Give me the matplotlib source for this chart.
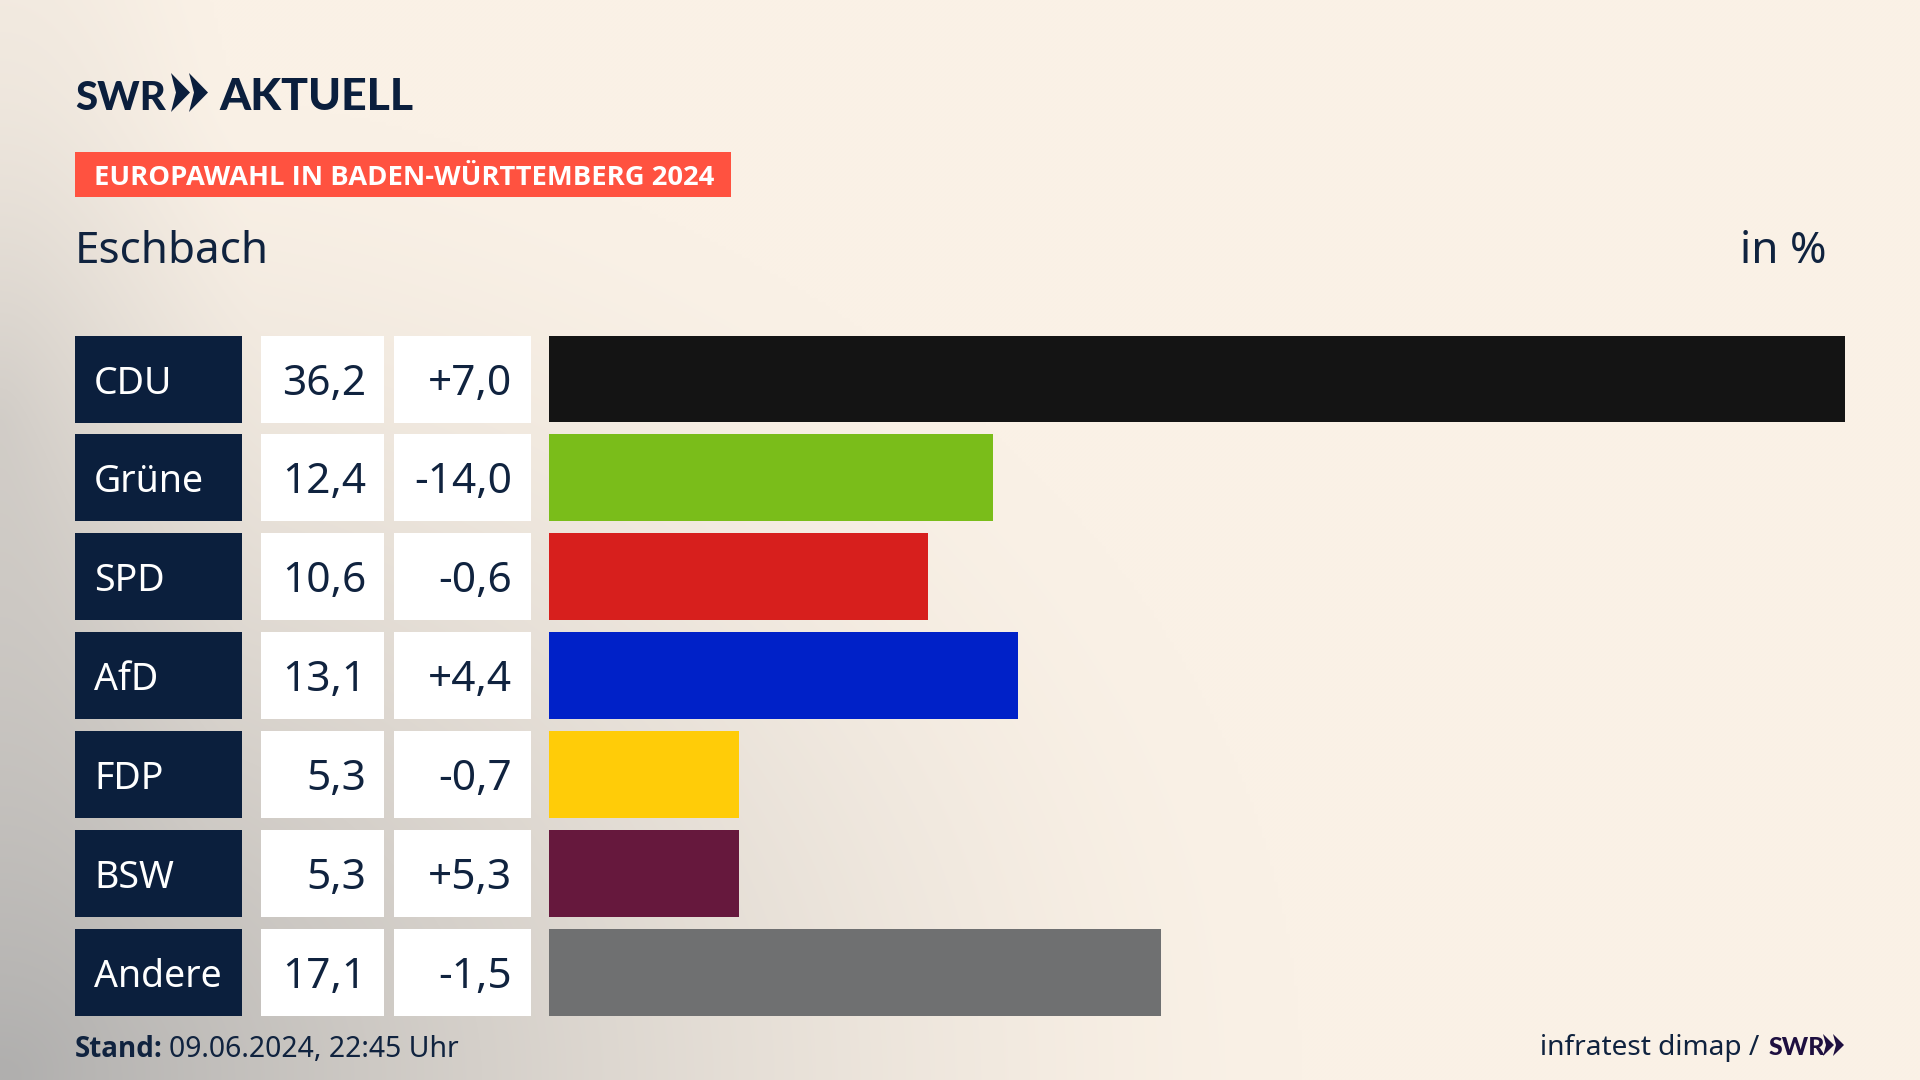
import numpy as np
import matplotlib
matplotlib.use("Agg")
import matplotlib.pyplot as plt
from matplotlib.patches import Rectangle, Polygon

parties = ["CDU", "Grüne", "SPD", "AfD", "FDP", "BSW", "Andere"]
shares = [36.2, 12.4, 10.6, 13.1, 5.3, 5.3, 17.1]
changes = ["+7,0", "-14,0", "-0,6", "+4,4", "-0,7", "+5,3", "-1,5"]
colors = ["#141414", "#7ABD1A", "#D71F1D", "#0021C8", "#FFCC08", "#66183D", "#6F7071"]

NAVY = "#0B1F3D"
TXT = "#10233F"
FONT = ["Noto Sans", "DejaVu Sans"]
BOLD = ["Open Sans", "DejaVu Sans"]
HEAVY = ["Lato", "DejaVu Sans"]

W, H = 1920, 1080
fig = plt.figure(figsize=(19.2, 10.8), dpi=100)

# background + pixel-layout axes
ax = fig.add_axes([0, 0, 1, 1])
ax.set_xlim(0, W); ax.set_ylim(H, 0); ax.axis("off")
yy, xx = np.mgrid[0:H:270j, 0:W:480j]
cream = np.array([250, 241, 230]) / 255
gray = np.array([176, 175, 174]) / 255
d1 = np.sqrt((xx / 1300) ** 2 + ((H - yy) / 1000) ** 2)
a1 = np.clip(1 - d1, 0, 1) ** 1.5
d2 = np.sqrt(((xx - 0) / 260) ** 2 + ((yy - 420) / 700) ** 2)
a2 = np.clip(1 - d2, 0, 1) ** 1.3 * 0.35
a = np.clip(a1 + a2, 0, 1)[..., None]
ax.imshow(cream * (1 - a) + gray * a, extent=(0, W, H, 0), aspect="auto", zorder=0, interpolation="bilinear")

# logo
ax.text(75, 110, "SWR", family=HEAVY, weight="black", fontsize=29, color=NAVY, va="baseline")
for x0 in (171, 189):
    ax.add_patch(Polygon([(x0, 73), (x0 + 19, 92.5), (x0, 112), (x0 + 5, 92.5)], closed=True, color=NAVY, lw=0, zorder=3))
ax.text(219, 110, "AKTUELL", family=HEAVY, weight="black", fontsize=32, color=NAVY, va="baseline")

# banner
ax.add_patch(Rectangle((75, 152), 656, 45, color="#FF5240", lw=0, zorder=2))
ax.text(94, 185, "EUROPAWAHL IN BADEN-WÜRTTEMBERG 2024", family=BOLD, weight="bold",
        fontsize=19.7, color="white", va="baseline", zorder=3)

# heading
ax.text(75, 263, "Eschbach", family=FONT, fontsize=31.7, color=TXT, va="baseline")
ax.text(1826, 263, "in %", family=FONT, fontsize=31.7, color=TXT, va="baseline", ha="right")

# table cells
tops = [336, 434, 533, 632, 731, 830, 929]
for top, p, s, c in zip(tops, parties, shares, changes):
    ax.add_patch(Rectangle((75, top), 167, 87, color=NAVY, lw=0, zorder=2))
    ax.add_patch(Rectangle((261, top), 123, 87, color="white", lw=0, zorder=2))
    ax.add_patch(Rectangle((394, top), 137, 87, color="white", lw=0, zorder=2))
    ax.text(94, top + 58, p, family=FONT, fontsize=27, color="white", va="baseline", zorder=3)
    ax.text(366, top + 59, f"{s:.1f}".replace(".", ","), family=FONT, fontsize=30.5, color=TXT,
            va="baseline", ha="right", zorder=3)
    ax.text(512, top + 59, c, family=FONT, fontsize=30.5, color=TXT, va="baseline", ha="right", zorder=3)

# bars
bx = fig.add_axes([549 / W, 1 - 1015.5 / H, (1845 - 549) / W, (1015.5 - 335.5) / H])
bx.patch.set_alpha(0)
bx.barh(range(len(parties)), shares, height=0.88, color=colors)
bx.set_xlim(0, 36.2)
bx.set_ylim(6.44, -0.44)
bx.axis("off")

# footer
ax.text(75, 1057, "Stand:", family=BOLD, weight="bold", fontsize=20, color=TXT, va="baseline")
ax.text(169, 1057, "09.06.2024, 22:45 Uhr", family=FONT, fontsize=20.4, color=TXT, va="baseline")
ax.text(1759, 1055, "infratest dimap /", family=FONT, fontsize=20.2, color=TXT, va="baseline", ha="right")
LOGO2 = "#1E0F40"
ax.text(1769, 1055, "SWR", family=HEAVY, weight="black", fontsize=18, color=LOGO2, va="baseline")
for x0 in (1823, 1833):
    ax.add_patch(Polygon([(x0, 1034), (x0 + 11, 1045), (x0, 1056), (x0 + 3, 1045)], closed=True, color=LOGO2, lw=0, zorder=3))

fig.savefig("out.png", dpi=100)
